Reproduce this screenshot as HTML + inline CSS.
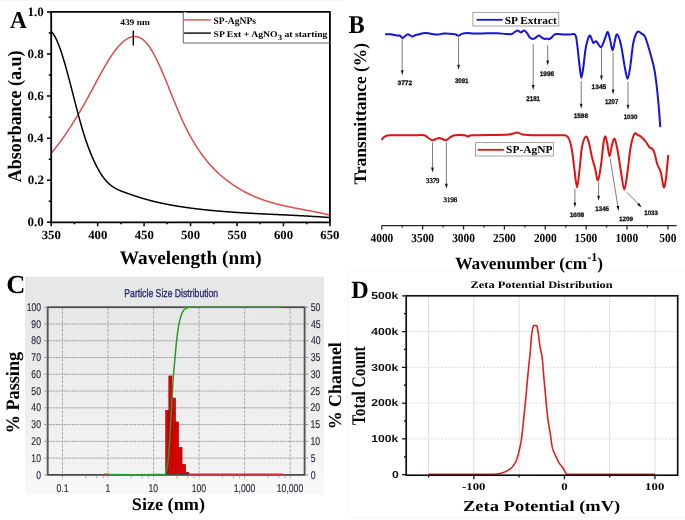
<!DOCTYPE html>
<html><head><meta charset="utf-8"><style>
html,body{margin:0;padding:0;background:#fff;}
body{width:685px;height:520px;overflow:hidden;font-family:"Liberation Serif", serif;}
svg{display:block;filter:blur(0.3px);}
</style></head><body>
<svg width="685" height="520" viewBox="0 0 685 520" text-rendering="geometricPrecision">
<rect width="685" height="520" fill="#fff"/>
<rect x="0" y="0" width="344" height="1.3" fill="#f6f6f6"/>
<path d="M347.5,271 V517.5 H685 M347.5,271 H685" stroke="#f8f8f8" stroke-width="1" fill="none"/>
<path d="M51.50,153.03 L52.00,152.42 L52.50,151.81 L53.00,151.20 L53.50,150.58 L54.00,149.96 L54.50,149.33 L55.00,148.69 L55.50,148.06 L56.00,147.41 L56.50,146.77 L57.00,146.12 L57.50,145.46 L58.00,144.80 L58.50,144.14 L59.00,143.47 L59.50,142.79 L60.00,142.11 L60.50,141.43 L61.00,140.74 L61.50,140.05 L62.00,139.36 L62.50,138.66 L63.00,137.95 L63.50,137.24 L64.00,136.53 L64.50,135.81 L65.00,135.09 L65.50,134.36 L66.00,133.63 L66.50,132.90 L67.00,132.16 L67.50,131.42 L68.00,130.67 L68.50,129.92 L69.00,129.16 L69.50,128.40 L70.00,127.63 L70.50,126.86 L71.00,126.09 L71.50,125.31 L72.00,124.53 L72.50,123.74 L73.00,122.95 L73.50,122.16 L74.00,121.36 L74.50,120.56 L75.00,119.75 L75.50,118.94 L76.00,118.12 L76.50,117.30 L77.00,116.48 L77.50,115.65 L78.00,114.82 L78.50,113.98 L79.00,113.14 L79.50,112.29 L80.00,111.45 L80.50,110.59 L81.00,109.74 L81.50,108.88 L82.00,108.01 L82.50,107.14 L83.00,106.27 L83.50,105.39 L84.00,104.51 L84.50,103.62 L85.00,102.73 L85.50,101.84 L86.00,100.94 L86.50,100.04 L87.00,99.14 L87.50,98.23 L88.00,97.31 L88.50,96.40 L89.00,95.48 L89.50,94.56 L90.00,93.63 L90.50,92.70 L91.00,91.77 L91.50,90.84 L92.00,89.91 L92.50,88.98 L93.00,88.04 L93.50,87.11 L94.00,86.17 L94.50,85.24 L95.00,84.30 L95.50,83.37 L96.00,82.43 L96.50,81.50 L97.00,80.57 L97.50,79.64 L98.00,78.72 L98.50,77.79 L99.00,76.87 L99.50,75.96 L100.00,75.04 L100.50,74.13 L101.00,73.23 L101.50,72.32 L102.00,71.43 L102.50,70.53 L103.00,69.65 L103.50,68.76 L104.00,67.89 L104.50,67.02 L105.00,66.16 L105.50,65.30 L106.00,64.45 L106.50,63.61 L107.00,62.77 L107.50,61.94 L108.00,61.13 L108.50,60.32 L109.00,59.51 L109.50,58.72 L110.00,57.94 L110.50,57.17 L111.00,56.40 L111.50,55.65 L112.00,54.91 L112.50,54.18 L113.00,53.45 L113.50,52.75 L114.00,52.05 L114.50,51.36 L115.00,50.69 L115.50,50.03 L116.00,49.39 L116.50,48.75 L117.00,48.13 L117.50,47.52 L118.00,46.93 L118.50,46.35 L119.00,45.79 L119.50,45.24 L120.00,44.70 L120.50,44.18 L121.00,43.67 L121.50,43.18 L122.00,42.71 L122.50,42.25 L123.00,41.81 L123.50,41.38 L124.00,40.97 L124.50,40.58 L125.00,40.20 L125.50,39.84 L126.00,39.50 L126.50,39.17 L127.00,38.86 L127.50,38.58 L128.00,38.30 L128.50,38.05 L129.00,37.82 L129.50,37.60 L130.00,37.41 L130.50,37.23 L131.00,37.07 L131.50,36.93 L132.00,36.82 L132.50,36.72 L133.00,36.64 L133.50,36.58 L134.00,36.55 L134.50,36.53 L135.00,36.54 L135.50,36.57 L136.00,36.62 L136.50,36.69 L137.00,36.78 L137.50,36.90 L138.00,37.04 L138.50,37.20 L139.00,37.38 L139.50,37.59 L140.00,37.82 L140.50,38.08 L141.00,38.35 L141.50,38.66 L142.00,38.98 L142.50,39.34 L143.00,39.71 L143.50,40.11 L144.00,40.54 L144.50,40.99 L145.00,41.47 L145.50,41.97 L146.00,42.50 L146.50,43.06 L147.00,43.64 L147.50,44.25 L148.00,44.89 L148.50,45.55 L149.00,46.24 L149.50,46.95 L150.00,47.69 L150.50,48.45 L151.00,49.24 L151.50,50.04 L152.00,50.87 L152.50,51.73 L153.00,52.60 L153.50,53.50 L154.00,54.41 L154.50,55.34 L155.00,56.30 L155.50,57.27 L156.00,58.25 L156.50,59.26 L157.00,60.28 L157.50,61.32 L158.00,62.37 L158.50,63.44 L159.00,64.52 L159.50,65.62 L160.00,66.73 L160.50,67.85 L161.00,68.98 L161.50,70.12 L162.00,71.28 L162.50,72.44 L163.00,73.62 L163.50,74.80 L164.00,75.99 L164.50,77.19 L165.00,78.40 L165.50,79.61 L166.00,80.83 L166.50,82.06 L167.00,83.29 L167.50,84.52 L168.00,85.76 L168.50,87.00 L169.00,88.24 L169.50,89.48 L170.00,90.73 L170.50,91.98 L171.00,93.22 L171.50,94.47 L172.00,95.72 L172.50,96.96 L173.00,98.20 L173.50,99.44 L174.00,100.68 L174.50,101.91 L175.00,103.14 L175.50,104.36 L176.00,105.58 L176.50,106.79 L177.00,107.99 L177.50,109.19 L178.00,110.38 L178.50,111.56 L179.00,112.73 L179.50,113.89 L180.00,115.04 L180.50,116.18 L181.00,117.31 L181.50,118.43 L182.00,119.53 L182.50,120.62 L183.00,121.70 L183.50,122.77 L184.00,123.83 L184.50,124.87 L185.00,125.90 L185.50,126.92 L186.00,127.93 L186.50,128.93 L187.00,129.92 L187.50,130.89 L188.00,131.86 L188.50,132.81 L189.00,133.75 L189.50,134.68 L190.00,135.60 L190.50,136.51 L191.00,137.41 L191.50,138.30 L192.00,139.17 L192.50,140.04 L193.00,140.90 L193.50,141.74 L194.00,142.58 L194.50,143.41 L195.00,144.22 L195.50,145.03 L196.00,145.83 L196.50,146.62 L197.00,147.39 L197.50,148.16 L198.00,148.92 L198.50,149.67 L199.00,150.42 L199.50,151.15 L200.00,151.87 L200.50,152.59 L201.00,153.29 L201.50,153.99 L202.00,154.68 L202.50,155.36 L203.00,156.03 L203.50,156.70 L204.00,157.35 L204.50,158.00 L205.00,158.64 L205.50,159.27 L206.00,159.90 L206.50,160.52 L207.00,161.12 L207.50,161.73 L208.00,162.32 L208.50,162.91 L209.00,163.49 L209.50,164.06 L210.00,164.63 L210.50,165.19 L211.00,165.74 L211.50,166.29 L212.00,166.82 L212.50,167.36 L213.00,167.88 L213.50,168.40 L214.00,168.92 L214.50,169.42 L215.00,169.93 L215.50,170.42 L216.00,170.91 L216.50,171.40 L217.00,171.87 L217.50,172.35 L218.00,172.82 L218.50,173.28 L219.00,173.73 L219.50,174.19 L220.00,174.63 L220.50,175.08 L221.00,175.51 L221.50,175.95 L222.00,176.37 L222.50,176.80 L223.00,177.21 L223.50,177.63 L224.00,178.04 L224.50,178.44 L225.00,178.85 L225.50,179.24 L226.00,179.64 L226.50,180.03 L227.00,180.41 L227.50,180.80 L228.00,181.17 L228.50,181.55 L229.00,181.92 L229.50,182.29 L230.00,182.65 L230.50,183.01 L231.00,183.37 L231.50,183.72 L232.00,184.07 L232.50,184.42 L233.00,184.76 L233.50,185.10 L234.00,185.43 L234.50,185.77 L235.00,186.10 L235.50,186.42 L236.00,186.74 L236.50,187.06 L237.00,187.38 L237.50,187.69 L238.00,188.00 L238.50,188.30 L239.00,188.61 L239.50,188.90 L240.00,189.20 L240.50,189.49 L241.00,189.78 L241.50,190.07 L242.00,190.35 L242.50,190.63 L243.00,190.91 L243.50,191.19 L244.00,191.46 L244.50,191.73 L245.00,191.99 L245.50,192.25 L246.00,192.51 L246.50,192.77 L247.00,193.02 L247.50,193.28 L248.00,193.52 L248.50,193.77 L249.00,194.01 L249.50,194.25 L250.00,194.49 L250.50,194.73 L251.00,194.96 L251.50,195.19 L252.00,195.42 L252.50,195.64 L253.00,195.86 L253.50,196.08 L254.00,196.30 L254.50,196.52 L255.00,196.73 L255.50,196.94 L256.00,197.15 L256.50,197.35 L257.00,197.55 L257.50,197.75 L258.00,197.95 L258.50,198.15 L259.00,198.34 L259.50,198.53 L260.00,198.72 L260.50,198.91 L261.00,199.10 L261.50,199.28 L262.00,199.46 L262.50,199.64 L263.00,199.82 L263.50,199.99 L264.00,200.16 L264.50,200.34 L265.00,200.50 L265.50,200.67 L266.00,200.84 L266.50,201.00 L267.00,201.16 L267.50,201.32 L268.00,201.48 L268.50,201.63 L269.00,201.79 L269.50,201.94 L270.00,202.09 L270.50,202.24 L271.00,202.39 L271.50,202.54 L272.00,202.68 L272.50,202.82 L273.00,202.96 L273.50,203.10 L274.00,203.24 L274.50,203.38 L275.00,203.51 L275.50,203.65 L276.00,203.78 L276.50,203.91 L277.00,204.04 L277.50,204.17 L278.00,204.30 L278.50,204.42 L279.00,204.55 L279.50,204.67 L280.00,204.79 L280.50,204.92 L281.00,205.03 L281.50,205.15 L282.00,205.27 L282.50,205.39 L283.00,205.50 L283.50,205.62 L284.00,205.73 L284.50,205.84 L285.00,205.96 L285.50,206.07 L286.00,206.18 L286.50,206.28 L287.00,206.39 L287.50,206.50 L288.00,206.61 L288.50,206.71 L289.00,206.82 L289.50,206.92 L290.00,207.02 L290.50,207.13 L291.00,207.23 L291.50,207.33 L292.00,207.43 L292.50,207.53 L293.00,207.63 L293.50,207.73 L294.00,207.83 L294.50,207.93 L295.00,208.02 L295.50,208.12 L296.00,208.22 L296.50,208.31 L297.00,208.41 L297.50,208.51 L298.00,208.60 L298.50,208.70 L299.00,208.79 L299.50,208.89 L300.00,208.98 L300.50,209.07 L301.00,209.17 L301.50,209.26 L302.00,209.35 L302.50,209.45 L303.00,209.54 L303.50,209.64 L304.00,209.73 L304.50,209.82 L305.00,209.92 L305.50,210.01 L306.00,210.10 L306.50,210.20 L307.00,210.29 L307.50,210.38 L308.00,210.48 L308.50,210.57 L309.00,210.67 L309.50,210.76 L310.00,210.86 L310.50,210.95 L311.00,211.05 L311.50,211.14 L312.00,211.24 L312.50,211.34 L313.00,211.43 L313.50,211.53 L314.00,211.63 L314.50,211.73 L315.00,211.83 L315.50,211.93 L316.00,212.03 L316.50,212.13 L317.00,212.23 L317.50,212.33 L318.00,212.43 L318.50,212.54 L319.00,212.64 L319.50,212.74 L320.00,212.85 L320.50,212.96 L321.00,213.06 L321.50,213.17 L322.00,213.28 L322.50,213.39 L323.00,213.50 L323.50,213.61 L324.00,213.72 L324.50,213.84 L325.00,213.95 L325.50,214.07 L326.00,214.18 L326.50,214.30 L327.00,214.42 L327.50,214.54 L328.00,214.66 L328.50,214.78 L329.00,214.91 L329.50,215.03" fill="none" stroke="#e04a4a" stroke-width="1.5"/>
<path d="M51.50,31.75 L52.00,32.26 L52.50,32.85 L53.00,33.50 L53.50,34.21 L54.00,34.98 L54.50,35.81 L55.00,36.70 L55.50,37.64 L56.00,38.65 L56.50,39.70 L57.00,40.80 L57.50,41.96 L58.00,43.17 L58.50,44.42 L59.00,45.72 L59.50,47.06 L60.00,48.44 L60.50,49.87 L61.00,51.33 L61.50,52.83 L62.00,54.37 L62.50,55.95 L63.00,57.55 L63.50,59.19 L64.00,60.86 L64.50,62.56 L65.00,64.28 L65.50,66.03 L66.00,67.80 L66.50,69.60 L67.00,71.42 L67.50,73.25 L68.00,75.11 L68.50,76.98 L69.00,78.86 L69.50,80.76 L70.00,82.67 L70.50,84.59 L71.00,86.52 L71.50,88.45 L72.00,90.39 L72.50,92.34 L73.00,94.29 L73.50,96.23 L74.00,98.18 L74.50,100.12 L75.00,102.06 L75.50,104.00 L76.00,105.93 L76.50,107.85 L77.00,109.75 L77.50,111.65 L78.00,113.54 L78.50,115.41 L79.00,117.26 L79.50,119.09 L80.00,120.91 L80.50,122.71 L81.00,124.48 L81.50,126.23 L82.00,127.95 L82.50,129.64 L83.00,131.31 L83.50,132.95 L84.00,134.56 L84.50,136.13 L85.00,137.68 L85.50,139.20 L86.00,140.69 L86.50,142.15 L87.00,143.59 L87.50,144.99 L88.00,146.37 L88.50,147.73 L89.00,149.06 L89.50,150.36 L90.00,151.63 L90.50,152.89 L91.00,154.11 L91.50,155.32 L92.00,156.50 L92.50,157.66 L93.00,158.79 L93.50,159.90 L94.00,160.99 L94.50,162.06 L95.00,163.11 L95.50,164.14 L96.00,165.14 L96.50,166.12 L97.00,167.08 L97.50,168.02 L98.00,168.94 L98.50,169.84 L99.00,170.71 L99.50,171.57 L100.00,172.40 L100.50,173.21 L101.00,174.00 L101.50,174.76 L102.00,175.51 L102.50,176.23 L103.00,176.93 L103.50,177.61 L104.00,178.27 L104.50,178.90 L105.00,179.51 L105.50,180.11 L106.00,180.68 L106.50,181.23 L107.00,181.76 L107.50,182.28 L108.00,182.77 L108.50,183.25 L109.00,183.71 L109.50,184.16 L110.00,184.59 L110.50,185.00 L111.00,185.40 L111.50,185.78 L112.00,186.15 L112.50,186.50 L113.00,186.85 L113.50,187.17 L114.00,187.49 L114.50,187.80 L115.00,188.09 L115.50,188.38 L116.00,188.65 L116.50,188.92 L117.00,189.17 L117.50,189.42 L118.00,189.66 L118.50,189.89 L119.00,190.11 L119.50,190.33 L120.00,190.55 L120.50,190.75 L121.00,190.96 L121.50,191.15 L122.00,191.35 L122.50,191.54 L123.00,191.73 L123.50,191.91 L124.00,192.10 L124.50,192.28 L125.00,192.46 L125.50,192.64 L126.00,192.82 L126.50,193.00 L127.00,193.18 L127.50,193.36 L128.00,193.54 L128.50,193.71 L129.00,193.89 L129.50,194.06 L130.00,194.24 L130.50,194.41 L131.00,194.59 L131.50,194.76 L132.00,194.93 L132.50,195.10 L133.00,195.27 L133.50,195.44 L134.00,195.60 L134.50,195.77 L135.00,195.94 L135.50,196.10 L136.00,196.27 L136.50,196.43 L137.00,196.59 L137.50,196.75 L138.00,196.91 L138.50,197.07 L139.00,197.23 L139.50,197.38 L140.00,197.54 L140.50,197.69 L141.00,197.85 L141.50,198.00 L142.00,198.15 L142.50,198.30 L143.00,198.45 L143.50,198.60 L144.00,198.74 L144.50,198.89 L145.00,199.03 L145.50,199.18 L146.00,199.32 L146.50,199.46 L147.00,199.60 L147.50,199.73 L148.00,199.87 L148.50,200.01 L149.00,200.14 L149.50,200.28 L150.00,200.41 L150.50,200.54 L151.00,200.67 L151.50,200.80 L152.00,200.93 L152.50,201.05 L153.00,201.18 L153.50,201.30 L154.00,201.43 L154.50,201.55 L155.00,201.67 L155.50,201.79 L156.00,201.91 L156.50,202.03 L157.00,202.14 L157.50,202.26 L158.00,202.38 L158.50,202.49 L159.00,202.60 L159.50,202.71 L160.00,202.83 L160.50,202.94 L161.00,203.04 L161.50,203.15 L162.00,203.26 L162.50,203.37 L163.00,203.47 L163.50,203.58 L164.00,203.68 L164.50,203.78 L165.00,203.88 L165.50,203.99 L166.00,204.08 L166.50,204.18 L167.00,204.28 L167.50,204.38 L168.00,204.48 L168.50,204.57 L169.00,204.67 L169.50,204.76 L170.00,204.85 L170.50,204.95 L171.00,205.04 L171.50,205.13 L172.00,205.22 L172.50,205.31 L173.00,205.40 L173.50,205.48 L174.00,205.57 L174.50,205.66 L175.00,205.74 L175.50,205.83 L176.00,205.91 L176.50,205.99 L177.00,206.08 L177.50,206.16 L178.00,206.24 L178.50,206.32 L179.00,206.40 L179.50,206.48 L180.00,206.56 L180.50,206.63 L181.00,206.71 L181.50,206.79 L182.00,206.86 L182.50,206.94 L183.00,207.01 L183.50,207.09 L184.00,207.16 L184.50,207.23 L185.00,207.30 L185.50,207.38 L186.00,207.45 L186.50,207.52 L187.00,207.59 L187.50,207.66 L188.00,207.73 L188.50,207.79 L189.00,207.86 L189.50,207.93 L190.00,207.99 L190.50,208.06 L191.00,208.13 L191.50,208.19 L192.00,208.26 L192.50,208.32 L193.00,208.38 L193.50,208.45 L194.00,208.51 L194.50,208.57 L195.00,208.64 L195.50,208.70 L196.00,208.76 L196.50,208.82 L197.00,208.88 L197.50,208.94 L198.00,209.00 L198.50,209.06 L199.00,209.11 L199.50,209.17 L200.00,209.23 L200.50,209.29 L201.00,209.34 L201.50,209.40 L202.00,209.45 L202.50,209.51 L203.00,209.56 L203.50,209.62 L204.00,209.67 L204.50,209.73 L205.00,209.78 L205.50,209.83 L206.00,209.88 L206.50,209.94 L207.00,209.99 L207.50,210.04 L208.00,210.09 L208.50,210.14 L209.00,210.19 L209.50,210.24 L210.00,210.29 L210.50,210.34 L211.00,210.39 L211.50,210.43 L212.00,210.48 L212.50,210.53 L213.00,210.58 L213.50,210.62 L214.00,210.67 L214.50,210.71 L215.00,210.76 L215.50,210.81 L216.00,210.85 L216.50,210.89 L217.00,210.94 L217.50,210.98 L218.00,211.03 L218.50,211.07 L219.00,211.11 L219.50,211.15 L220.00,211.20 L220.50,211.24 L221.00,211.28 L221.50,211.32 L222.00,211.36 L222.50,211.40 L223.00,211.44 L223.50,211.48 L224.00,211.52 L224.50,211.56 L225.00,211.60 L225.50,211.64 L226.00,211.68 L226.50,211.72 L227.00,211.75 L227.50,211.79 L228.00,211.83 L228.50,211.87 L229.00,211.90 L229.50,211.94 L230.00,211.97 L230.50,212.01 L231.00,212.05 L231.50,212.08 L232.00,212.12 L232.50,212.15 L233.00,212.19 L233.50,212.22 L234.00,212.25 L234.50,212.29 L235.00,212.32 L235.50,212.36 L236.00,212.39 L236.50,212.42 L237.00,212.45 L237.50,212.49 L238.00,212.52 L238.50,212.55 L239.00,212.58 L239.50,212.61 L240.00,212.65 L240.50,212.68 L241.00,212.71 L241.50,212.74 L242.00,212.77 L242.50,212.80 L243.00,212.83 L243.50,212.86 L244.00,212.89 L244.50,212.92 L245.00,212.95 L245.50,212.98 L246.00,213.01 L246.50,213.03 L247.00,213.06 L247.50,213.09 L248.00,213.12 L248.50,213.15 L249.00,213.18 L249.50,213.20 L250.00,213.23 L250.50,213.26 L251.00,213.29 L251.50,213.31 L252.00,213.34 L252.50,213.37 L253.00,213.39 L253.50,213.42 L254.00,213.45 L254.50,213.47 L255.00,213.50 L255.50,213.53 L256.00,213.55 L256.50,213.58 L257.00,213.60 L257.50,213.63 L258.00,213.65 L258.50,213.68 L259.00,213.70 L259.50,213.73 L260.00,213.76 L260.50,213.78 L261.00,213.80 L261.50,213.83 L262.00,213.85 L262.50,213.88 L263.00,213.90 L263.50,213.93 L264.00,213.95 L264.50,213.98 L265.00,214.00 L265.50,214.02 L266.00,214.05 L266.50,214.07 L267.00,214.10 L267.50,214.12 L268.00,214.14 L268.50,214.17 L269.00,214.19 L269.50,214.22 L270.00,214.24 L270.50,214.26 L271.00,214.29 L271.50,214.31 L272.00,214.33 L272.50,214.36 L273.00,214.38 L273.50,214.40 L274.00,214.43 L274.50,214.45 L275.00,214.47 L275.50,214.50 L276.00,214.52 L276.50,214.54 L277.00,214.57 L277.50,214.59 L278.00,214.61 L278.50,214.64 L279.00,214.66 L279.50,214.68 L280.00,214.71 L280.50,214.73 L281.00,214.75 L281.50,214.78 L282.00,214.80 L282.50,214.82 L283.00,214.85 L283.50,214.87 L284.00,214.89 L284.50,214.92 L285.00,214.94 L285.50,214.96 L286.00,214.99 L286.50,215.01 L287.00,215.04 L287.50,215.06 L288.00,215.08 L288.50,215.11 L289.00,215.13 L289.50,215.15 L290.00,215.18 L290.50,215.20 L291.00,215.23 L291.50,215.25 L292.00,215.28 L292.50,215.30 L293.00,215.32 L293.50,215.35 L294.00,215.37 L294.50,215.40 L295.00,215.42 L295.50,215.45 L296.00,215.47 L296.50,215.50 L297.00,215.52 L297.50,215.55 L298.00,215.58 L298.50,215.60 L299.00,215.63 L299.50,215.65 L300.00,215.68 L300.50,215.70 L301.00,215.73 L301.50,215.76 L302.00,215.78 L302.50,215.81 L303.00,215.84 L303.50,215.86 L304.00,215.89 L304.50,215.92 L305.00,215.95 L305.50,215.97 L306.00,216.00 L306.50,216.03 L307.00,216.06 L307.50,216.09 L308.00,216.11 L308.50,216.14 L309.00,216.17 L309.50,216.20 L310.00,216.23 L310.50,216.26 L311.00,216.29 L311.50,216.32 L312.00,216.35 L312.50,216.38 L313.00,216.41 L313.50,216.44 L314.00,216.47 L314.50,216.50 L315.00,216.53 L315.50,216.56 L316.00,216.59 L316.50,216.62 L317.00,216.66 L317.50,216.69 L318.00,216.72 L318.50,216.75 L319.00,216.79 L319.50,216.82 L320.00,216.85 L320.50,216.89 L321.00,216.92 L321.50,216.95 L322.00,216.99 L322.50,217.02 L323.00,217.06 L323.50,217.09 L324.00,217.13 L324.50,217.16 L325.00,217.20 L325.50,217.23 L326.00,217.27 L326.50,217.31 L327.00,217.34 L327.50,217.38 L328.00,217.42 L328.50,217.46 L329.00,217.49 L329.50,217.53" fill="none" stroke="#000" stroke-width="1.5"/>
<path d="M51.20,11.95 H329.90 V222.35 H51.20 Z" fill="none" stroke="#000" stroke-width="1.8"/>
<path d="M51.20,222.35 h-4.3 M51.20,201.31 h-2.5 M51.20,180.27 h-4.3 M51.20,159.23 h-2.5 M51.20,138.19 h-4.3 M51.20,117.15 h-2.5 M51.20,96.11 h-4.3 M51.20,75.07 h-2.5 M51.20,54.03 h-4.3 M51.20,32.99 h-2.5 M51.20,11.95 h-4.3 M51.20,222.35 v3.8 M74.43,222.35 v2.0 M97.65,222.35 v3.8 M120.88,222.35 v2.0 M144.10,222.35 v3.8 M167.32,222.35 v2.0 M190.55,222.35 v3.8 M213.77,222.35 v2.0 M237.00,222.35 v3.8 M260.23,222.35 v2.0 M283.45,222.35 v3.8 M306.68,222.35 v2.0 M329.90,222.35 v3.8" stroke="#000" stroke-width="1.5" fill="none"/>
<path d="M133.3,30.6 V45.5" stroke="#000" stroke-width="1.4"/>
<path d="M183.3,11.95 V43 H329.90" fill="#fff" stroke="#555" stroke-width="0.9"/>
<path d="M184.1,19.9 H210.9" stroke="#e04a4a" stroke-width="1.4"/>
<path d="M184.1,33.1 H210.9" stroke="#000" stroke-width="1.4"/>
<path d="M385.10,34.20 C386.07,34.20 389.32,34.07 390.90,34.20 C392.48,34.33 393.38,34.75 394.60,35.00 C395.82,35.25 397.35,35.63 398.20,35.70 C399.05,35.77 398.97,35.03 399.70,35.40 C400.43,35.77 401.75,37.73 402.60,37.90 C403.45,38.07 403.95,37.02 404.80,36.40 C405.65,35.78 406.48,34.20 407.70,34.20 C408.92,34.20 410.75,36.27 412.10,36.40 C413.45,36.53 414.58,35.37 415.80,35.00 C417.02,34.63 417.95,34.53 419.40,34.20 C420.85,33.87 422.80,33.12 424.50,33.00 C426.20,32.88 427.90,33.25 429.60,33.50 C431.30,33.75 433.23,34.33 434.70,34.50 C436.17,34.67 436.82,34.67 438.40,34.50 C439.98,34.33 441.77,33.60 444.20,33.50 C446.63,33.40 451.05,33.73 453.00,33.90 C454.95,34.07 454.98,34.20 455.90,34.50 C456.82,34.80 457.52,35.80 458.50,35.70 C459.48,35.60 460.28,34.35 461.80,33.90 C463.32,33.45 465.67,33.07 467.60,33.00 C469.53,32.93 470.88,33.42 473.40,33.50 C475.92,33.58 479.88,33.55 482.70,33.50 C485.52,33.45 487.75,33.25 490.30,33.20 C492.85,33.15 495.43,33.07 498.00,33.20 C500.57,33.33 503.40,33.87 505.70,34.00 C508.00,34.13 510.40,34.27 511.80,34.00 C513.20,33.73 513.13,33.00 514.10,32.40 C515.07,31.80 516.50,30.40 517.60,30.40 C518.70,30.40 519.63,32.40 520.70,32.40 C521.77,32.40 522.93,30.27 524.00,30.40 C525.07,30.53 526.20,32.10 527.10,33.20 C528.00,34.30 528.50,36.05 529.40,37.00 C530.30,37.95 531.48,38.77 532.50,38.90 C533.52,39.03 534.48,38.37 535.50,37.80 C536.52,37.23 537.57,35.55 538.60,35.50 C539.63,35.45 540.68,36.93 541.70,37.50 C542.72,38.07 543.87,38.72 544.70,38.90 C545.53,39.08 546.00,38.53 546.70,38.60 C547.40,38.67 548.08,39.48 548.90,39.30 C549.72,39.12 550.63,38.32 551.60,37.50 C552.57,36.68 553.67,34.98 554.70,34.40 C555.73,33.82 556.27,34.00 557.80,34.00 C559.33,34.00 561.87,34.33 563.90,34.40 C565.93,34.47 568.33,34.47 570.00,34.40 C571.67,34.33 572.92,33.68 573.90,34.00 C574.88,34.32 575.33,34.40 575.90,36.30 C576.47,38.20 576.68,40.43 577.30,45.40 C577.92,50.37 578.92,60.72 579.60,66.10 C580.28,71.48 580.75,77.70 581.40,77.70 C582.05,77.70 582.77,71.10 583.50,66.10 C584.23,61.10 584.80,52.77 585.80,47.70 C586.80,42.63 588.42,36.85 589.50,35.70 C590.58,34.55 591.65,39.58 592.30,40.80 C592.95,42.02 592.72,42.90 593.40,43.00 C594.08,43.10 595.13,40.70 596.40,41.40 C597.67,42.10 599.57,47.68 601.00,47.20 C602.43,46.72 603.88,41.03 605.00,38.50 C606.12,35.97 606.82,31.62 607.70,32.00 C608.58,32.38 609.48,37.73 610.30,40.80 C611.12,43.87 611.83,50.40 612.60,50.40 C613.37,50.40 614.13,43.48 614.90,40.80 C615.67,38.12 616.17,33.53 617.20,34.30 C618.23,35.07 619.87,40.10 621.10,45.40 C622.33,50.70 623.52,60.53 624.60,66.10 C625.68,71.67 626.65,78.80 627.60,78.80 C628.55,78.80 629.35,72.07 630.30,66.10 C631.25,60.13 632.13,48.68 633.30,43.00 C634.47,37.32 635.87,33.53 637.30,32.00 C638.73,30.47 640.57,32.92 641.90,33.80 C643.23,34.68 643.95,34.22 645.30,37.30 C646.65,40.38 648.45,46.73 650.00,52.30 C651.55,57.87 653.27,63.02 654.60,70.70 C655.93,78.38 657.05,88.98 658.00,98.40 C658.95,107.82 659.92,122.40 660.30,127.20" fill="none" stroke="#1414dc" stroke-width="2.0" stroke-linejoin="round"/>
<path d="M381.70,140.00 C382.07,139.53 382.62,137.98 383.90,137.20 C385.18,136.42 384.78,135.62 389.40,135.30 C394.02,134.98 405.82,135.30 411.60,135.30 C417.38,135.30 421.32,134.85 424.10,135.30 C426.88,135.75 426.92,137.18 428.30,138.00 C429.68,138.82 431.12,140.03 432.40,140.20 C433.68,140.37 434.85,139.37 436.00,139.00 C437.15,138.63 438.13,137.95 439.30,138.00 C440.47,138.05 441.83,138.93 443.00,139.30 C444.17,139.67 445.07,140.55 446.30,140.20 C447.53,139.85 449.02,138.02 450.40,137.20 C451.78,136.38 452.28,135.62 454.60,135.30 C456.92,134.98 461.98,135.08 464.30,135.30 C466.62,135.52 467.12,136.60 468.50,136.60 C469.88,136.60 465.90,135.67 472.60,135.30 C479.30,134.93 501.30,134.87 508.70,134.40 C516.10,133.93 514.68,132.50 517.00,132.50 C519.32,132.50 519.37,133.93 522.60,134.40 C525.83,134.87 530.17,135.15 536.40,135.30 C542.63,135.45 555.03,135.25 560.00,135.30 C564.97,135.35 564.62,134.82 566.20,135.60 C567.78,136.38 568.53,137.53 569.50,140.00 C570.47,142.47 571.17,145.40 572.00,150.40 C572.83,155.40 573.67,163.85 574.50,170.00 C575.33,176.15 576.17,187.30 577.00,187.30 C577.83,187.30 578.67,176.72 579.50,170.00 C580.33,163.28 580.95,152.58 582.00,147.00 C583.05,141.42 584.63,137.17 585.80,136.50 C586.97,135.83 587.97,139.53 589.00,143.00 C590.03,146.47 591.00,153.13 592.00,157.30 C593.00,161.47 594.00,164.15 595.00,168.00 C596.00,171.85 597.00,180.90 598.00,180.40 C599.00,179.90 600.08,171.23 601.00,165.00 C601.92,158.77 602.77,147.75 603.50,143.00 C604.23,138.25 604.73,136.17 605.40,136.50 C606.07,136.83 606.82,141.72 607.50,145.00 C608.18,148.28 608.75,156.20 609.50,156.20 C610.25,156.20 611.15,147.90 612.00,145.00 C612.85,142.10 613.68,137.97 614.60,138.80 C615.52,139.63 616.43,144.47 617.50,150.00 C618.57,155.53 619.87,165.40 621.00,172.00 C622.13,178.60 623.22,189.60 624.30,189.60 C625.38,189.60 626.47,178.93 627.50,172.00 C628.53,165.07 629.38,154.30 630.50,148.00 C631.62,141.70 632.95,136.37 634.20,134.20 C635.45,132.03 636.65,134.42 638.00,135.00 C639.35,135.58 640.97,136.53 642.30,137.70 C643.63,138.87 644.85,140.45 646.00,142.00 C647.15,143.55 648.08,145.80 649.20,147.00 C650.32,148.20 651.73,147.87 652.70,149.20 C653.67,150.53 654.23,152.50 655.00,155.00 C655.77,157.50 656.33,161.32 657.30,164.20 C658.27,167.08 659.72,168.45 660.80,172.30 C661.88,176.15 662.93,186.35 663.80,187.30 C664.67,188.25 665.27,183.38 666.00,178.00 C666.73,172.62 667.83,158.83 668.20,155.00" fill="none" stroke="#dc1414" stroke-width="2.0" stroke-linejoin="round"/>
<path d="M381.8,225.55 H676.6 M381.80,225.55 v4.0 M402.24,225.55 v2.0 M422.67,225.55 v4.0 M443.11,225.55 v2.0 M463.54,225.55 v4.0 M483.98,225.55 v2.0 M504.41,225.55 v4.0 M524.85,225.55 v2.0 M545.29,225.55 v4.0 M565.72,225.55 v2.0 M586.16,225.55 v4.0 M606.59,225.55 v2.0 M627.03,225.55 v4.0 M647.46,225.55 v2.0 M667.90,225.55 v4.0" stroke="#222" stroke-width="1.3" fill="none"/>
<rect x="472.9" y="12.4" width="85.9" height="13.6" fill="#fff" stroke="#999" stroke-width="0.9"/>
<path d="M476.6,19.8 H502.7" stroke="#1414dc" stroke-width="1.8"/>
<rect x="475.5" y="142.6" width="77.9" height="13.4" fill="#fff" stroke="#999" stroke-width="0.9"/>
<path d="M477.9,149.8 H503.9" stroke="#dc1414" stroke-width="1.8"/>
<path d="M402.20,38.50 L402.20,70.30" stroke="#444" stroke-width="0.7"/><path d="M402.20,75.30 L400.80,70.30 L403.60,70.30 Z" fill="#111"/>
<path d="M458.60,37.50 L458.60,64.70" stroke="#444" stroke-width="0.7"/><path d="M458.60,69.70 L457.20,64.70 L460.00,64.70 Z" fill="#111"/>
<path d="M533.20,44.20 L533.20,84.90" stroke="#444" stroke-width="0.7"/><path d="M533.20,89.90 L531.80,84.90 L534.60,84.90 Z" fill="#111"/>
<path d="M547.70,45.30 L547.70,60.60" stroke="#444" stroke-width="0.7"/><path d="M547.70,65.60 L546.30,60.60 L549.10,60.60 Z" fill="#111"/>
<path d="M581.20,81.10 L581.20,103.70" stroke="#444" stroke-width="0.7"/><path d="M581.20,108.70 L579.80,103.70 L582.60,103.70 Z" fill="#111"/>
<path d="M601.50,48.50 L601.50,75.60" stroke="#444" stroke-width="0.7"/><path d="M601.50,80.60 L600.10,75.60 L602.90,75.60 Z" fill="#111"/>
<path d="M613.10,52.50 L613.10,89.40" stroke="#444" stroke-width="0.7"/><path d="M613.10,94.40 L611.70,89.40 L614.50,89.40 Z" fill="#111"/>
<path d="M628.00,82.20 L628.00,104.70" stroke="#444" stroke-width="0.7"/><path d="M628.00,109.70 L626.60,104.70 L629.40,104.70 Z" fill="#111"/>
<path d="M432.50,142.50 L432.50,167.50" stroke="#444" stroke-width="0.7"/><path d="M432.50,172.50 L431.10,167.50 L433.90,167.50 Z" fill="#111"/>
<path d="M446.40,142.50 L446.40,183.80" stroke="#444" stroke-width="0.7"/><path d="M446.40,188.80 L445.00,183.80 L447.80,183.80 Z" fill="#111"/>
<path d="M574.90,188.80 L574.90,202.40" stroke="#444" stroke-width="0.7"/><path d="M574.90,207.40 L573.50,202.40 L576.30,202.40 Z" fill="#111"/>
<path d="M598.60,182.20 L598.60,195.70" stroke="#444" stroke-width="0.7"/><path d="M598.60,200.70 L597.20,195.70 L600.00,195.70 Z" fill="#111"/>
<path d="M610.20,158.50 L617.81,206.06" stroke="#444" stroke-width="0.7"/><path d="M618.60,211.00 L616.43,206.28 L619.19,205.84 Z" fill="#111"/>
<path d="M627.00,192.40 L638.11,203.82" stroke="#444" stroke-width="0.7"/><path d="M641.60,207.40 L637.11,204.79 L639.12,202.84 Z" fill="#111"/>
<defs><linearGradient id="gC" x1="0" y1="0" x2="0" y2="1"><stop offset="0" stop-color="#e6e6e6"/><stop offset="0.5" stop-color="#ececec"/><stop offset="1" stop-color="#f9f9f9"/></linearGradient><linearGradient id="gC2" x1="0" y1="0" x2="0" y2="1"><stop offset="0" stop-color="#e8e8e8"/><stop offset="1" stop-color="#f3f3f3"/></linearGradient></defs>
<rect x="25" y="276.6" width="299" height="217.8" fill="url(#gC)"/>
<rect x="47.7" y="307.2" width="256.9" height="167.7" fill="url(#gC2)"/>
<path d="M47.7,458.13 H304.6 M47.7,441.36 H304.6 M47.7,424.59 H304.6 M47.7,407.82 H304.6 M47.7,391.05 H304.6 M47.7,374.28 H304.6 M47.7,357.51 H304.6 M47.7,340.74 H304.6 M47.7,323.97 H304.6" stroke="#a2a2a2" stroke-width="1.0" stroke-dasharray="2,0.7" fill="none"/>
<path d="M62.50,307.2 V479.9 M108.04,307.2 V479.9 M153.58,307.2 V479.9 M199.12,307.2 V479.9 M244.66,307.2 V479.9 M290.20,307.2 V479.9" stroke="#a4a4a4" stroke-width="0.9" stroke-dasharray="3,1.3" fill="none"/>
<rect x="165.6" y="410.3" width="3.2" height="64.6" fill="#e00000" stroke="#900000" stroke-width="0.5"/>
<rect x="168.8" y="375.9" width="3.2" height="99.0" fill="#e00000" stroke="#900000" stroke-width="0.5"/>
<rect x="172.0" y="398.0" width="3.6" height="76.9" fill="#e00000" stroke="#900000" stroke-width="0.5"/>
<rect x="175.6" y="421.9" width="3.1" height="53.0" fill="#e00000" stroke="#900000" stroke-width="0.5"/>
<rect x="178.7" y="447.3" width="3.4" height="27.6" fill="#e00000" stroke="#900000" stroke-width="0.5"/>
<rect x="182.1" y="464.3" width="3.6" height="10.6" fill="#e00000" stroke="#900000" stroke-width="0.5"/>
<rect x="185.7" y="472.3" width="3.2" height="2.6" fill="#e00000" stroke="#900000" stroke-width="0.5"/>
<rect x="47.7" y="307.2" width="256.9" height="167.7" fill="none" stroke="#4d4d4d" stroke-width="1.8"/>
<path d="M85.73,475.70 v2.6 M96.66,475.70 v2.6 M103.03,475.70 v2.6 M131.27,475.70 v2.6 M142.19,475.70 v2.6 M148.57,475.70 v2.6 M176.81,475.70 v2.6 M187.73,475.70 v2.6 M194.11,475.70 v2.6 M222.35,475.70 v2.6 M233.28,475.70 v2.6 M239.65,475.70 v2.6 M267.89,475.70 v2.6 M278.81,475.70 v2.6 M285.19,475.70 v2.6" stroke="#9a9a9a" stroke-width="0.8" fill="none"/>
<path d="M103.6,474.4 H107.6 M188.9,474.4 H283" stroke="#c83232" stroke-width="1.7"/>
<path d="M106.70,474.60 C115.58,474.60 150.25,474.67 160.00,474.60 C169.75,474.53 163.87,476.30 165.20,474.20 C166.53,472.10 167.07,470.80 168.00,462.00 C168.93,453.20 169.95,435.07 170.80,421.40 C171.65,407.73 172.38,390.75 173.10,380.00 C173.82,369.25 174.52,363.43 175.10,356.90 C175.68,350.37 175.98,346.18 176.60,340.80 C177.22,335.42 178.03,328.83 178.80,324.60 C179.57,320.37 180.37,317.83 181.20,315.40 C182.03,312.97 182.72,311.30 183.80,310.00 C184.88,308.70 186.33,308.07 187.70,307.60 C189.07,307.13 176.40,307.27 192.00,307.20 C207.60,307.13 266.42,307.20 281.30,307.20" fill="none" stroke="#2e962e" stroke-width="1.5"/>
<path d="M47.7,474.90 h-3.4 M304.6,474.90 h3.7 M47.7,458.13 h-3.4 M304.6,458.13 h3.7 M47.7,441.36 h-3.4 M304.6,441.36 h3.7 M47.7,424.59 h-3.4 M304.6,424.59 h3.7 M47.7,407.82 h-3.4 M304.6,407.82 h3.7 M47.7,391.05 h-3.4 M304.6,391.05 h3.7 M47.7,374.28 h-3.4 M304.6,374.28 h3.7 M47.7,357.51 h-3.4 M304.6,357.51 h3.7 M47.7,340.74 h-3.4 M304.6,340.74 h3.7 M47.7,323.97 h-3.4 M304.6,323.97 h3.7 M47.7,307.20 h-3.4 M304.6,307.20 h3.7" stroke="#888" stroke-width="0.9" fill="none"/>
<path d="M47.7,471.55 h-1.8 M304.6,471.55 h1.8 M47.7,468.19 h-1.8 M304.6,468.19 h1.8 M47.7,464.84 h-1.8 M304.6,464.84 h1.8 M47.7,461.48 h-1.8 M304.6,461.48 h1.8 M47.7,454.78 h-1.8 M304.6,454.78 h1.8 M47.7,451.42 h-1.8 M304.6,451.42 h1.8 M47.7,448.07 h-1.8 M304.6,448.07 h1.8 M47.7,444.71 h-1.8 M304.6,444.71 h1.8 M47.7,438.01 h-1.8 M304.6,438.01 h1.8 M47.7,434.65 h-1.8 M304.6,434.65 h1.8 M47.7,431.30 h-1.8 M304.6,431.30 h1.8 M47.7,427.94 h-1.8 M304.6,427.94 h1.8 M47.7,421.24 h-1.8 M304.6,421.24 h1.8 M47.7,417.88 h-1.8 M304.6,417.88 h1.8 M47.7,414.53 h-1.8 M304.6,414.53 h1.8 M47.7,411.17 h-1.8 M304.6,411.17 h1.8 M47.7,404.47 h-1.8 M304.6,404.47 h1.8 M47.7,401.11 h-1.8 M304.6,401.11 h1.8 M47.7,397.76 h-1.8 M304.6,397.76 h1.8 M47.7,394.40 h-1.8 M304.6,394.40 h1.8 M47.7,387.70 h-1.8 M304.6,387.70 h1.8 M47.7,384.34 h-1.8 M304.6,384.34 h1.8 M47.7,380.99 h-1.8 M304.6,380.99 h1.8 M47.7,377.63 h-1.8 M304.6,377.63 h1.8 M47.7,370.93 h-1.8 M304.6,370.93 h1.8 M47.7,367.57 h-1.8 M304.6,367.57 h1.8 M47.7,364.22 h-1.8 M304.6,364.22 h1.8 M47.7,360.86 h-1.8 M304.6,360.86 h1.8 M47.7,354.16 h-1.8 M304.6,354.16 h1.8 M47.7,350.80 h-1.8 M304.6,350.80 h1.8 M47.7,347.45 h-1.8 M304.6,347.45 h1.8 M47.7,344.09 h-1.8 M304.6,344.09 h1.8 M47.7,337.39 h-1.8 M304.6,337.39 h1.8 M47.7,334.03 h-1.8 M304.6,334.03 h1.8 M47.7,330.68 h-1.8 M304.6,330.68 h1.8 M47.7,327.32 h-1.8 M304.6,327.32 h1.8 M47.7,320.62 h-1.8 M304.6,320.62 h1.8 M47.7,317.26 h-1.8 M304.6,317.26 h1.8 M47.7,313.91 h-1.8 M304.6,313.91 h1.8 M47.7,310.55 h-1.8 M304.6,310.55 h1.8" stroke="#a0a0a0" stroke-width="0.8" fill="none"/>
<path d="M428.57,295.8 V475.2 M473.85,295.8 V475.2 M519.12,295.8 V475.2 M564.40,295.8 V475.2 M609.67,295.8 V475.2 M654.95,295.8 V475.2" stroke="#dadada" stroke-width="0.9" fill="none"/>
<path d="M406.2,438.92 H677.7 M406.2,403.14 H677.7 M406.2,367.36 H677.7 M406.2,331.58 H677.7" stroke="#d2d2d2" stroke-width="0.8" stroke-dasharray="2,1.5" fill="none"/>
<path d="M428.50,474.40 L428.75,474.40 L429.00,474.40 L429.25,474.40 L429.50,474.40 L429.75,474.40 L430.00,474.40 L430.25,474.40 L430.50,474.40 L430.75,474.40 L431.00,474.40 L431.25,474.40 L431.50,474.40 L431.75,474.40 L432.00,474.40 L432.25,474.40 L432.50,474.40 L432.75,474.40 L433.00,474.40 L433.25,474.40 L433.50,474.40 L433.75,474.40 L434.00,474.40 L434.25,474.40 L434.50,474.40 L434.75,474.40 L435.00,474.40 L435.25,474.40 L435.50,474.40 L435.75,474.40 L436.00,474.40 L436.25,474.40 L436.50,474.40 L436.75,474.40 L437.00,474.40 L437.25,474.40 L437.50,474.40 L437.75,474.40 L438.00,474.40 L438.25,474.40 L438.50,474.40 L438.75,474.40 L439.00,474.40 L439.25,474.40 L439.50,474.40 L439.75,474.40 L440.00,474.40 L440.25,474.40 L440.50,474.40 L440.75,474.40 L441.00,474.40 L441.25,474.40 L441.50,474.40 L441.75,474.40 L442.00,474.40 L442.25,474.40 L442.50,474.40 L442.75,474.40 L443.00,474.40 L443.25,474.40 L443.50,474.40 L443.75,474.40 L444.00,474.40 L444.25,474.40 L444.50,474.40 L444.75,474.40 L445.00,474.40 L445.25,474.40 L445.50,474.40 L445.75,474.40 L446.00,474.40 L446.25,474.40 L446.50,474.40 L446.75,474.40 L447.00,474.40 L447.25,474.40 L447.50,474.40 L447.75,474.40 L448.00,474.40 L448.25,474.40 L448.50,474.40 L448.75,474.40 L449.00,474.40 L449.25,474.40 L449.50,474.40 L449.75,474.40 L450.00,474.40 L450.25,474.40 L450.50,474.40 L450.75,474.40 L451.00,474.40 L451.25,474.40 L451.50,474.40 L451.75,474.40 L452.00,474.40 L452.25,474.40 L452.50,474.40 L452.75,474.40 L453.00,474.40 L453.25,474.40 L453.50,474.40 L453.75,474.40 L454.00,474.40 L454.25,474.40 L454.50,474.40 L454.75,474.40 L455.00,474.40 L455.25,474.40 L455.50,474.40 L455.75,474.40 L456.00,474.40 L456.25,474.40 L456.50,474.40 L456.75,474.40 L457.00,474.40 L457.25,474.40 L457.50,474.40 L457.75,474.40 L458.00,474.40 L458.25,474.40 L458.50,474.40 L458.75,474.40 L459.00,474.40 L459.25,474.40 L459.50,474.40 L459.75,474.40 L460.00,474.40 L460.25,474.40 L460.50,474.40 L460.75,474.40 L461.00,474.40 L461.25,474.40 L461.50,474.40 L461.75,474.40 L462.00,474.40 L462.25,474.40 L462.50,474.40 L462.75,474.40 L463.00,474.40 L463.25,474.40 L463.50,474.40 L463.75,474.40 L464.00,474.40 L464.25,474.40 L464.50,474.40 L464.75,474.40 L465.00,474.40 L465.25,474.40 L465.50,474.40 L465.75,474.40 L466.00,474.40 L466.25,474.40 L466.50,474.40 L466.75,474.40 L467.00,474.40 L467.25,474.40 L467.50,474.40 L467.75,474.40 L468.00,474.40 L468.25,474.40 L468.50,474.40 L468.75,474.40 L469.00,474.40 L469.25,474.40 L469.50,474.40 L469.75,474.40 L470.00,474.40 L470.25,474.40 L470.50,474.40 L470.75,474.40 L471.00,474.40 L471.25,474.40 L471.50,474.40 L471.75,474.40 L472.00,474.40 L472.25,474.40 L472.50,474.40 L472.75,474.40 L473.00,474.40 L473.25,474.40 L473.50,474.40 L473.75,474.40 L474.00,474.40 L474.25,474.40 L474.50,474.40 L474.75,474.40 L475.00,474.40 L475.25,474.40 L475.50,474.40 L475.75,474.40 L476.00,474.40 L476.25,474.40 L476.50,474.40 L476.75,474.40 L477.00,474.40 L477.25,474.40 L477.50,474.40 L477.75,474.40 L478.00,474.40 L478.25,474.40 L478.50,474.40 L478.75,474.40 L479.00,474.40 L479.25,474.40 L479.50,474.40 L479.75,474.40 L480.00,474.40 L480.25,474.40 L480.50,474.40 L480.75,474.40 L481.00,474.40 L481.25,474.40 L481.50,474.40 L481.75,474.40 L482.00,474.40 L482.25,474.40 L482.50,474.40 L482.75,474.40 L483.00,474.40 L483.25,474.40 L483.50,474.40 L483.75,474.40 L484.00,474.40 L484.25,474.40 L484.50,474.40 L484.75,474.40 L485.00,474.40 L485.25,474.40 L485.50,474.40 L485.75,474.40 L486.00,474.40 L486.25,474.40 L486.50,474.40 L486.75,474.40 L487.00,474.40 L487.25,474.40 L487.50,474.40 L487.75,474.40 L488.00,474.40 L488.25,474.40 L488.50,474.40 L488.75,474.40 L489.00,474.40 L489.25,474.40 L489.50,474.40 L489.75,474.40 L490.00,474.40 L490.25,474.40 L490.50,474.40 L490.75,474.39 L491.00,474.39 L491.25,474.38 L491.50,474.38 L491.75,474.37 L492.00,474.36 L492.25,474.35 L492.50,474.34 L492.75,474.33 L493.00,474.32 L493.25,474.30 L493.50,474.29 L493.75,474.28 L494.00,474.26 L494.25,474.25 L494.50,474.23 L494.75,474.22 L495.00,474.20 L495.25,474.18 L495.50,474.16 L495.75,474.14 L496.00,474.12 L496.25,474.09 L496.50,474.06 L496.75,474.03 L497.00,474.00 L497.25,473.96 L497.50,473.93 L497.75,473.89 L498.00,473.85 L498.25,473.81 L498.50,473.76 L498.75,473.72 L499.00,473.67 L499.25,473.63 L499.50,473.58 L499.75,473.53 L500.00,473.48 L500.25,473.43 L500.50,473.37 L500.75,473.31 L501.00,473.24 L501.25,473.18 L501.50,473.10 L501.75,473.03 L502.00,472.95 L502.25,472.87 L502.50,472.79 L502.75,472.70 L503.00,472.61 L503.25,472.52 L503.50,472.42 L503.75,472.33 L504.00,472.23 L504.25,472.13 L504.50,472.03 L504.75,471.92 L505.00,471.81 L505.25,471.71 L505.50,471.60 L505.75,471.48 L506.00,471.36 L506.25,471.24 L506.50,471.12 L506.75,470.99 L507.00,470.86 L507.25,470.73 L507.50,470.59 L507.75,470.45 L508.00,470.30 L508.25,470.15 L508.50,470.00 L508.75,469.84 L509.00,469.67 L509.25,469.50 L509.50,469.33 L509.75,469.14 L510.00,468.96 L510.25,468.77 L510.50,468.57 L510.75,468.36 L511.00,468.15 L511.25,467.93 L511.50,467.71 L511.75,467.47 L512.00,467.22 L512.25,466.95 L512.50,466.67 L512.75,466.37 L513.00,466.06 L513.25,465.73 L513.50,465.38 L513.75,465.02 L514.00,464.64 L514.25,464.25 L514.50,463.84 L514.75,463.42 L515.00,462.97 L515.25,462.51 L515.50,462.04 L515.75,461.54 L516.00,461.03 L516.25,460.51 L516.50,459.94 L516.75,459.31 L517.00,458.61 L517.25,457.85 L517.50,457.04 L517.75,456.18 L518.00,455.29 L518.25,454.35 L518.50,453.39 L518.75,452.41 L519.00,451.41 L519.25,450.40 L519.50,449.36 L519.75,448.29 L520.00,447.17 L520.25,445.99 L520.50,444.75 L520.75,443.42 L521.00,442.00 L521.25,440.49 L521.50,438.78 L521.75,436.88 L522.00,434.83 L522.25,432.66 L522.50,430.42 L522.75,428.15 L523.00,425.83 L523.25,423.35 L523.50,420.77 L523.75,418.13 L524.00,415.50 L524.25,412.91 L524.50,410.42 L524.75,408.02 L525.00,405.67 L525.25,403.33 L525.50,400.98 L525.75,398.56 L526.00,396.04 L526.25,393.37 L526.50,390.51 L526.75,387.55 L527.00,384.60 L527.25,381.75 L527.50,379.05 L527.75,376.42 L528.00,373.84 L528.25,371.30 L528.50,368.79 L528.75,366.30 L529.00,363.86 L529.25,361.53 L529.50,359.24 L529.75,356.94 L530.00,354.55 L530.25,352.02 L530.50,349.22 L530.75,345.78 L531.00,342.06 L531.25,338.56 L531.50,335.79 L531.75,333.99 L532.00,332.35 L532.25,330.81 L532.50,329.40 L532.75,328.15 L533.00,327.10 L533.25,326.28 L533.50,325.74 L533.75,325.51 L534.00,325.50 L534.25,325.50 L534.50,325.50 L534.75,325.50 L535.00,325.50 L535.25,325.50 L535.50,325.50 L535.75,325.50 L536.00,325.50 L536.25,325.50 L536.50,325.50 L536.75,325.75 L537.00,326.42 L537.25,327.42 L537.50,328.65 L537.75,330.00 L538.00,331.37 L538.25,332.76 L538.50,334.47 L538.75,336.44 L539.00,338.57 L539.25,340.73 L539.50,342.84 L539.75,344.77 L540.00,346.43 L540.25,347.88 L540.50,349.17 L540.75,350.36 L541.00,351.51 L541.25,352.67 L541.50,353.89 L541.75,355.22 L542.00,356.72 L542.25,358.44 L542.50,360.50 L542.75,363.35 L543.00,366.76 L543.25,370.28 L543.50,373.50 L543.75,376.37 L544.00,379.14 L544.25,381.83 L544.50,384.47 L544.75,387.08 L545.00,389.69 L545.25,392.32 L545.50,395.00 L545.75,397.77 L546.00,400.63 L546.25,403.49 L546.50,406.29 L546.75,408.95 L547.00,411.40 L547.25,413.66 L547.50,415.80 L547.75,417.83 L548.00,419.74 L548.25,421.55 L548.50,423.25 L548.75,424.86 L549.00,426.39 L549.25,427.88 L549.50,429.33 L549.75,430.77 L550.00,432.23 L550.25,433.72 L550.50,435.26 L550.75,436.91 L551.00,438.74 L551.25,440.66 L551.50,442.58 L551.75,444.37 L552.00,445.95 L552.25,447.20 L552.50,448.14 L552.75,449.00 L553.00,449.78 L553.25,450.49 L553.50,451.14 L553.75,451.75 L554.00,452.32 L554.25,452.87 L554.50,453.39 L554.75,453.91 L555.00,454.42 L555.25,454.95 L555.50,455.50 L555.75,456.06 L556.00,456.62 L556.25,457.18 L556.50,457.73 L556.75,458.28 L557.00,458.82 L557.25,459.35 L557.50,459.87 L557.75,460.38 L558.00,460.88 L558.25,461.36 L558.50,461.84 L558.75,462.29 L559.00,462.73 L559.25,463.15 L559.50,463.55 L559.75,463.92 L560.00,464.27 L560.25,464.60 L560.50,464.91 L560.75,465.21 L561.00,465.49 L561.25,465.77 L561.50,466.05 L561.75,466.34 L562.00,466.63 L562.25,466.93 L562.50,467.25 L562.75,467.59 L563.00,467.95 L563.25,468.36 L563.50,468.81 L563.75,469.29 L564.00,469.78 L564.25,470.28 L564.50,470.77 L564.75,471.25 L565.00,471.70 L565.25,472.10 L565.50,472.46 L565.75,472.75 L566.00,473.03 L566.25,473.31 L566.50,473.59 L566.75,473.84 L567.00,474.05 L567.25,474.23 L567.50,474.35 L567.75,474.40 L568.00,474.40 L568.25,474.40 L568.50,474.40 L568.75,474.40 L569.00,474.40 L569.25,474.40 L569.50,474.40 L569.75,474.40 L570.00,474.40 L570.25,474.40 L570.50,474.40 L570.75,474.40 L571.00,474.40 L571.25,474.40 L571.50,474.40 L571.75,474.40 L572.00,474.40 L572.25,474.40 L572.50,474.40 L572.75,474.40 L573.00,474.40 L573.25,474.40 L573.50,474.40 L573.75,474.40 L574.00,474.40 L574.25,474.40 L574.50,474.40 L574.75,474.40 L575.00,474.40 L575.25,474.40 L575.50,474.40 L575.75,474.40 L576.00,474.40 L576.25,474.40 L576.50,474.40 L576.75,474.40 L577.00,474.40 L577.25,474.40 L577.50,474.40 L577.75,474.40 L578.00,474.40 L578.25,474.40 L578.50,474.40 L578.75,474.40 L579.00,474.40 L579.25,474.40 L579.50,474.40 L579.75,474.40 L580.00,474.40 L580.25,474.40 L580.50,474.40 L580.75,474.40 L581.00,474.40 L581.25,474.40 L581.50,474.40 L581.75,474.40 L582.00,474.40 L582.25,474.40 L582.50,474.40 L582.75,474.40 L583.00,474.40 L583.25,474.40 L583.50,474.40 L583.75,474.40 L584.00,474.40 L584.25,474.40 L584.50,474.40 L584.75,474.40 L585.00,474.40 L585.25,474.40 L585.50,474.40 L585.75,474.40 L586.00,474.40 L586.25,474.40 L586.50,474.40 L586.75,474.40 L587.00,474.40 L587.25,474.40 L587.50,474.40 L587.75,474.40 L588.00,474.40 L588.25,474.40 L588.50,474.40 L588.75,474.40 L589.00,474.40 L589.25,474.40 L589.50,474.40 L589.75,474.40 L590.00,474.40 L590.25,474.40 L590.50,474.40 L590.75,474.40 L591.00,474.40 L591.25,474.40 L591.50,474.40 L591.75,474.40 L592.00,474.40 L592.25,474.40 L592.50,474.40 L592.75,474.40 L593.00,474.40 L593.25,474.40 L593.50,474.40 L593.75,474.40 L594.00,474.40 L594.25,474.40 L594.50,474.40 L594.75,474.40 L595.00,474.40 L595.25,474.40 L595.50,474.40 L595.75,474.40 L596.00,474.40 L596.25,474.40 L596.50,474.40 L596.75,474.40 L597.00,474.40 L597.25,474.40 L597.50,474.40 L597.75,474.40 L598.00,474.40 L598.25,474.40 L598.50,474.40 L598.75,474.40 L599.00,474.40 L599.25,474.40 L599.50,474.40 L599.75,474.40 L600.00,474.40 L600.25,474.40 L600.50,474.40 L600.75,474.40 L601.00,474.40 L601.25,474.40 L601.50,474.40 L601.75,474.40 L602.00,474.40 L602.25,474.40 L602.50,474.40 L602.75,474.40 L603.00,474.40 L603.25,474.40 L603.50,474.40 L603.75,474.40 L604.00,474.40 L604.25,474.40 L604.50,474.40 L604.75,474.40 L605.00,474.40 L605.25,474.40 L605.50,474.40 L605.75,474.40 L606.00,474.40 L606.25,474.40 L606.50,474.40 L606.75,474.40 L607.00,474.40 L607.25,474.40 L607.50,474.40 L607.75,474.40 L608.00,474.40 L608.25,474.40 L608.50,474.40 L608.75,474.40 L609.00,474.40 L609.25,474.40 L609.50,474.40 L609.75,474.40 L610.00,474.40 L610.25,474.40 L610.50,474.40 L610.75,474.40 L611.00,474.40 L611.25,474.40 L611.50,474.40 L611.75,474.40 L612.00,474.40 L612.25,474.40 L612.50,474.40 L612.75,474.40 L613.00,474.40 L613.25,474.40 L613.50,474.40 L613.75,474.40 L614.00,474.40 L614.25,474.40 L614.50,474.40 L614.75,474.40 L615.00,474.40 L615.25,474.40 L615.50,474.40 L615.75,474.40 L616.00,474.40 L616.25,474.40 L616.50,474.40 L616.75,474.40 L617.00,474.40 L617.25,474.40 L617.50,474.40 L617.75,474.40 L618.00,474.40 L618.25,474.40 L618.50,474.40 L618.75,474.40 L619.00,474.40 L619.25,474.40 L619.50,474.40 L619.75,474.40 L620.00,474.40 L620.25,474.40 L620.50,474.40 L620.75,474.40 L621.00,474.40 L621.25,474.40 L621.50,474.40 L621.75,474.40 L622.00,474.40 L622.25,474.40 L622.50,474.40 L622.75,474.40 L623.00,474.40 L623.25,474.40 L623.50,474.40 L623.75,474.40 L624.00,474.40 L624.25,474.40 L624.50,474.40 L624.75,474.40 L625.00,474.40 L625.25,474.40 L625.50,474.40 L625.75,474.40 L626.00,474.40 L626.25,474.40 L626.50,474.40 L626.75,474.40 L627.00,474.40 L627.25,474.40 L627.50,474.40 L627.75,474.40 L628.00,474.40 L628.25,474.40 L628.50,474.40 L628.75,474.40 L629.00,474.40 L629.25,474.40 L629.50,474.40 L629.75,474.40 L630.00,474.40 L630.25,474.40 L630.50,474.40 L630.75,474.40 L631.00,474.40 L631.25,474.40 L631.50,474.40 L631.75,474.40 L632.00,474.40 L632.25,474.40 L632.50,474.40 L632.75,474.40 L633.00,474.40 L633.25,474.40 L633.50,474.40 L633.75,474.40 L634.00,474.40 L634.25,474.40 L634.50,474.40 L634.75,474.40 L635.00,474.40 L635.25,474.40 L635.50,474.40 L635.75,474.40 L636.00,474.40 L636.25,474.40 L636.50,474.40 L636.75,474.40 L637.00,474.40 L637.25,474.40 L637.50,474.40 L637.75,474.40 L638.00,474.40 L638.25,474.40 L638.50,474.40 L638.75,474.40 L639.00,474.40 L639.25,474.40 L639.50,474.40 L639.75,474.40 L640.00,474.40 L640.25,474.40 L640.50,474.40 L640.75,474.40 L641.00,474.40 L641.25,474.40 L641.50,474.40 L641.75,474.40 L642.00,474.40 L642.25,474.40 L642.50,474.40 L642.75,474.40 L643.00,474.40 L643.25,474.40 L643.50,474.40 L643.75,474.40 L644.00,474.40 L644.25,474.40 L644.50,474.40 L644.75,474.40 L645.00,474.40 L645.25,474.40 L645.50,474.40 L645.75,474.40 L646.00,474.40 L646.25,474.40 L646.50,474.40 L646.75,474.40 L647.00,474.40 L647.25,474.40 L647.50,474.40 L647.75,474.40 L648.00,474.40 L648.25,474.40 L648.50,474.40 L648.75,474.40 L649.00,474.40 L649.25,474.40 L649.50,474.40 L649.75,474.40 L650.00,474.40 L650.25,474.40 L650.50,474.40 L650.75,474.40 L651.00,474.40 L651.25,474.40 L651.50,474.40 L651.75,474.40 L652.00,474.40 L652.25,474.40 L652.50,474.40 L652.75,474.40 L653.00,474.40 L653.25,474.40 L653.50,474.40 L653.75,474.40 L654.00,474.40 L654.25,474.40 L654.50,474.40 L654.75,474.40 L654.90,474.40" fill="none" stroke="#e41e1e" stroke-width="1.6" stroke-linejoin="round"/>
<rect x="406.2" y="295.8" width="271.5" height="179.4" fill="none" stroke="#111" stroke-width="1.7"/>
<path d="M406.2,474.70 h-4.2 M406.2,456.81 h-2.2 M406.2,438.92 h-4.2 M406.2,421.03 h-2.2 M406.2,403.14 h-4.2 M406.2,385.25 h-2.2 M406.2,367.36 h-4.2 M406.2,349.47 h-2.2 M406.2,331.58 h-4.2 M406.2,313.69 h-2.2 M406.2,295.80 h-4.2 M428.57,475.2 v2.2 M473.85,475.2 v4.0 M519.12,475.2 v2.2 M564.40,475.2 v4.0 M609.67,475.2 v2.2 M654.95,475.2 v4.0" stroke="#111" stroke-width="1.3" fill="none"/>
<text transform="translate(27.53,226.05) scale(1.0254,1)" font-size="12.727" font-family="Liberation Serif" font-weight="bold" fill="#000">0.0</text>
<text transform="translate(27.79,183.97) scale(1.0254,1)" font-size="12.727" font-family="Liberation Serif" font-weight="bold" fill="#000">0.2</text>
<text transform="translate(27.27,141.89) scale(1.0254,1)" font-size="12.727" font-family="Liberation Serif" font-weight="bold" fill="#000">0.4</text>
<text transform="translate(27.53,99.81) scale(1.0254,1)" font-size="12.727" font-family="Liberation Serif" font-weight="bold" fill="#000">0.6</text>
<text transform="translate(27.53,57.73) scale(1.0254,1)" font-size="12.727" font-family="Liberation Serif" font-weight="bold" fill="#000">0.8</text>
<text transform="translate(27.53,15.65) scale(1.0254,1)" font-size="12.727" font-family="Liberation Serif" font-weight="bold" fill="#000">1.0</text>
<text transform="translate(41.64,238.80) scale(1.0197,1)" font-size="12.500" font-family="Liberation Serif" font-weight="bold" fill="#000">350</text>
<text transform="translate(88.22,238.80) scale(1.0197,1)" font-size="12.500" font-family="Liberation Serif" font-weight="bold" fill="#000">400</text>
<text transform="translate(134.67,238.80) scale(1.0197,1)" font-size="12.500" font-family="Liberation Serif" font-weight="bold" fill="#000">450</text>
<text transform="translate(180.99,238.80) scale(1.0197,1)" font-size="12.500" font-family="Liberation Serif" font-weight="bold" fill="#000">500</text>
<text transform="translate(227.44,238.80) scale(1.0197,1)" font-size="12.500" font-family="Liberation Serif" font-weight="bold" fill="#000">550</text>
<text transform="translate(273.89,238.80) scale(1.0197,1)" font-size="12.500" font-family="Liberation Serif" font-weight="bold" fill="#000">600</text>
<text transform="translate(320.34,238.80) scale(1.0197,1)" font-size="12.500" font-family="Liberation Serif" font-weight="bold" fill="#000">650</text>
<text transform="translate(119.81,263.60) scale(1.0091,1)" font-size="19.100" font-family="Liberation Serif" font-weight="bold" fill="#000">Wavelength (nm)</text>
<text transform="translate(21.30,182.20) rotate(-90) scale(0.9351,1)" font-size="19.200" font-family="Liberation Serif" font-weight="bold" fill="#000">Absorbance (a.u)</text>
<text transform="translate(10.10,27.60) scale(0.9625,1)" font-size="24.242" font-family="Liberation Serif" font-weight="bold" fill="#000">A</text>
<text transform="translate(120.21,25.10) scale(1.0907,1)" font-size="8.636" font-family="Liberation Serif" font-weight="bold" fill="#000">439 nm</text>
<text transform="translate(213.52,24.40) scale(0.9735,1)" font-size="9.848" font-family="Liberation Serif" font-weight="bold" fill="#000">SP-AgNPs</text>
<text transform="translate(213.52,37.30) scale(1.1170,1)" font-size="8.714" font-family="Liberation Serif" font-weight="bold" fill="#000">SP Ext + AgNO<tspan font-size="0.9em" dy="0.28em">3</tspan><tspan dy="-0.252em"> at starting</tspan></text>
<text transform="translate(370.52,241.90) scale(0.9282,1)" font-size="12.273" font-family="Liberation Serif" font-weight="bold" fill="#000">4000</text>
<text transform="translate(411.28,241.90) scale(0.9282,1)" font-size="12.273" font-family="Liberation Serif" font-weight="bold" fill="#000">3500</text>
<text transform="translate(452.15,241.90) scale(0.9282,1)" font-size="12.273" font-family="Liberation Serif" font-weight="bold" fill="#000">3000</text>
<text transform="translate(493.02,241.90) scale(0.9282,1)" font-size="12.273" font-family="Liberation Serif" font-weight="bold" fill="#000">2500</text>
<text transform="translate(533.89,241.90) scale(0.9282,1)" font-size="12.273" font-family="Liberation Serif" font-weight="bold" fill="#000">2000</text>
<text transform="translate(574.54,241.90) scale(0.9282,1)" font-size="12.273" font-family="Liberation Serif" font-weight="bold" fill="#000">1500</text>
<text transform="translate(615.41,241.90) scale(0.9282,1)" font-size="12.273" font-family="Liberation Serif" font-weight="bold" fill="#000">1000</text>
<text transform="translate(659.36,241.90) scale(0.9282,1)" font-size="12.273" font-family="Liberation Serif" font-weight="bold" fill="#000">500</text>
<text transform="translate(455.15,268.50) scale(1.0137,1)" font-size="17.100" font-family="Liberation Serif" font-weight="bold" fill="#000">Wavenumber (cm<tspan font-size="0.7em" dy="-0.614em">-1</tspan><tspan dy="0.43em">)</tspan></text>
<text transform="translate(365.80,184.55) rotate(-90) scale(0.9919,1)" font-size="17.600" font-family="Liberation Serif" font-weight="bold" fill="#000">Transmittance (%)</text>
<text transform="translate(348.61,32.80) scale(0.9455,1)" font-size="25.758" font-family="Liberation Serif" font-weight="bold" fill="#000">B</text>
<text transform="translate(504.72,23.50) scale(1.0424,1)" font-size="10.909" font-family="Liberation Serif" font-weight="bold" fill="#000">SP Extract</text>
<text transform="translate(506.11,153.10) scale(1.0786,1)" font-size="10.606" font-family="Liberation Serif" font-weight="bold" fill="#000">SP-AgNP</text>
<text transform="translate(397.47,85.40) scale(1.0074,1)" font-size="6.571" font-family="Liberation Sans" font-weight="bold" fill="#111" stroke="#111" stroke-width="0.3">3772</text>
<text transform="translate(454.98,83.10) scale(0.9018,1)" font-size="6.714" font-family="Liberation Sans" font-weight="bold" fill="#111" stroke="#111" stroke-width="0.3">3091</text>
<text transform="translate(526.25,100.70) scale(0.9047,1)" font-size="6.857" font-family="Liberation Sans" font-weight="bold" fill="#111" stroke="#111" stroke-width="0.3">2181</text>
<text transform="translate(539.71,76.00) scale(0.9695,1)" font-size="6.714" font-family="Liberation Sans" font-weight="bold" fill="#111" stroke="#111" stroke-width="0.3">1996</text>
<text transform="translate(591.61,89.30) scale(0.9955,1)" font-size="6.571" font-family="Liberation Sans" font-weight="bold" fill="#111" stroke="#111" stroke-width="0.3">1345</text>
<text transform="translate(604.94,104.40) scale(0.8558,1)" font-size="7.000" font-family="Liberation Sans" font-weight="bold" fill="#111" stroke="#111" stroke-width="0.3">1207</text>
<text transform="translate(573.71,117.90) scale(0.9813,1)" font-size="6.571" font-family="Liberation Sans" font-weight="bold" fill="#111" stroke="#111" stroke-width="0.3">1598</text>
<text transform="translate(623.63,118.90) scale(0.9475,1)" font-size="6.571" font-family="Liberation Sans" font-weight="bold" fill="#111" stroke="#111" stroke-width="0.3">1030</text>
<text transform="translate(569.71,216.90) scale(1.0104,1)" font-size="6.429" font-family="Liberation Sans" font-weight="bold" fill="#111" stroke="#111" stroke-width="0.3">1608</text>
<text transform="translate(595.33,211.00) scale(0.9117,1)" font-size="6.714" font-family="Liberation Sans" font-weight="bold" fill="#111" stroke="#111" stroke-width="0.3">1345</text>
<text transform="translate(618.92,220.90) scale(1.0206,1)" font-size="6.286" font-family="Liberation Sans" font-weight="bold" fill="#111" stroke="#111" stroke-width="0.3">1209</text>
<text transform="translate(644.23,215.30) scale(0.9403,1)" font-size="6.571" font-family="Liberation Sans" font-weight="bold" fill="#111" stroke="#111" stroke-width="0.3">1033</text>
<text transform="translate(426.03,183.10) scale(0.9238,1)" font-size="7.273" font-family="Liberation Serif" font-weight="normal" fill="#111" stroke="#111" stroke-width="0.4">3379</text>
<text transform="translate(443.53,202.30) scale(0.9864,1)" font-size="6.970" font-family="Liberation Serif" font-weight="normal" fill="#111" stroke="#111" stroke-width="0.4">3198</text>
<text transform="translate(36.21,478.55) scale(0.7652,1)" font-size="11.286" font-family="Liberation Sans" font-weight="normal" fill="#2a2838" stroke="#2a2838" stroke-width="0.15">0</text>
<text transform="translate(310.75,478.55) scale(0.7652,1)" font-size="11.286" font-family="Liberation Sans" font-weight="normal" fill="#2a2838" stroke="#2a2838" stroke-width="0.15">0</text>
<text transform="translate(31.37,461.78) scale(0.7652,1)" font-size="11.286" font-family="Liberation Sans" font-weight="normal" fill="#2a2838" stroke="#2a2838" stroke-width="0.15">10</text>
<text transform="translate(310.75,461.78) scale(0.7652,1)" font-size="11.286" font-family="Liberation Sans" font-weight="normal" fill="#2a2838" stroke="#2a2838" stroke-width="0.15">5</text>
<text transform="translate(31.37,445.01) scale(0.7652,1)" font-size="11.286" font-family="Liberation Sans" font-weight="normal" fill="#2a2838" stroke="#2a2838" stroke-width="0.15">20</text>
<text transform="translate(310.41,445.01) scale(0.7652,1)" font-size="11.286" font-family="Liberation Sans" font-weight="normal" fill="#2a2838" stroke="#2a2838" stroke-width="0.15">10</text>
<text transform="translate(31.37,428.24) scale(0.7652,1)" font-size="11.286" font-family="Liberation Sans" font-weight="normal" fill="#2a2838" stroke="#2a2838" stroke-width="0.15">30</text>
<text transform="translate(310.41,428.24) scale(0.7652,1)" font-size="11.286" font-family="Liberation Sans" font-weight="normal" fill="#2a2838" stroke="#2a2838" stroke-width="0.15">15</text>
<text transform="translate(31.37,411.47) scale(0.7652,1)" font-size="11.286" font-family="Liberation Sans" font-weight="normal" fill="#2a2838" stroke="#2a2838" stroke-width="0.15">40</text>
<text transform="translate(310.58,411.47) scale(0.7652,1)" font-size="11.286" font-family="Liberation Sans" font-weight="normal" fill="#2a2838" stroke="#2a2838" stroke-width="0.15">20</text>
<text transform="translate(31.37,394.70) scale(0.7652,1)" font-size="11.286" font-family="Liberation Sans" font-weight="normal" fill="#2a2838" stroke="#2a2838" stroke-width="0.15">50</text>
<text transform="translate(310.58,394.70) scale(0.7652,1)" font-size="11.286" font-family="Liberation Sans" font-weight="normal" fill="#2a2838" stroke="#2a2838" stroke-width="0.15">25</text>
<text transform="translate(31.37,377.93) scale(0.7652,1)" font-size="11.286" font-family="Liberation Sans" font-weight="normal" fill="#2a2838" stroke="#2a2838" stroke-width="0.15">60</text>
<text transform="translate(310.75,377.93) scale(0.7652,1)" font-size="11.286" font-family="Liberation Sans" font-weight="normal" fill="#2a2838" stroke="#2a2838" stroke-width="0.15">30</text>
<text transform="translate(31.37,361.16) scale(0.7652,1)" font-size="11.286" font-family="Liberation Sans" font-weight="normal" fill="#2a2838" stroke="#2a2838" stroke-width="0.15">70</text>
<text transform="translate(310.75,361.16) scale(0.7652,1)" font-size="11.286" font-family="Liberation Sans" font-weight="normal" fill="#2a2838" stroke="#2a2838" stroke-width="0.15">35</text>
<text transform="translate(31.37,344.39) scale(0.7652,1)" font-size="11.286" font-family="Liberation Sans" font-weight="normal" fill="#2a2838" stroke="#2a2838" stroke-width="0.15">80</text>
<text transform="translate(310.93,344.39) scale(0.7652,1)" font-size="11.286" font-family="Liberation Sans" font-weight="normal" fill="#2a2838" stroke="#2a2838" stroke-width="0.15">40</text>
<text transform="translate(31.37,327.62) scale(0.7652,1)" font-size="11.286" font-family="Liberation Sans" font-weight="normal" fill="#2a2838" stroke="#2a2838" stroke-width="0.15">90</text>
<text transform="translate(310.93,327.62) scale(0.7652,1)" font-size="11.286" font-family="Liberation Sans" font-weight="normal" fill="#2a2838" stroke="#2a2838" stroke-width="0.15">45</text>
<text transform="translate(26.71,310.85) scale(0.7652,1)" font-size="11.286" font-family="Liberation Sans" font-weight="normal" fill="#2a2838" stroke="#2a2838" stroke-width="0.15">100</text>
<text transform="translate(310.75,310.85) scale(0.7652,1)" font-size="11.286" font-family="Liberation Sans" font-weight="normal" fill="#2a2838" stroke="#2a2838" stroke-width="0.15">50</text>
<text transform="translate(56.54,492.00) scale(0.7652,1)" font-size="11.286" font-family="Liberation Sans" font-weight="normal" fill="#2a2838" stroke="#2a2838" stroke-width="0.15">0.1</text>
<text transform="translate(105.54,492.00) scale(0.7652,1)" font-size="11.286" font-family="Liberation Sans" font-weight="normal" fill="#2a2838" stroke="#2a2838" stroke-width="0.15">1</text>
<text transform="translate(148.57,492.00) scale(0.7652,1)" font-size="11.286" font-family="Liberation Sans" font-weight="normal" fill="#2a2838" stroke="#2a2838" stroke-width="0.15">10</text>
<text transform="translate(191.78,492.00) scale(0.7652,1)" font-size="11.286" font-family="Liberation Sans" font-weight="normal" fill="#2a2838" stroke="#2a2838" stroke-width="0.15">100</text>
<text transform="translate(233.69,492.00) scale(0.7652,1)" font-size="11.286" font-family="Liberation Sans" font-weight="normal" fill="#2a2838" stroke="#2a2838" stroke-width="0.15">1,000</text>
<text transform="translate(276.81,492.00) scale(0.7652,1)" font-size="11.286" font-family="Liberation Sans" font-weight="normal" fill="#2a2838" stroke="#2a2838" stroke-width="0.15">10,000</text>
<text transform="translate(124.31,296.90) scale(0.7615,1)" font-size="11.389" font-family="Liberation Sans" font-weight="normal" fill="#2a2a6e" stroke="#2a2a6e" stroke-width="0.35">Particle Size Distribution</text>
<text transform="translate(6.14,292.90) scale(1.0228,1)" font-size="25.909" font-family="Liberation Serif" font-weight="bold" fill="#000">C</text>
<text transform="translate(131.81,509.80) scale(1.0320,1)" font-size="17.600" font-family="Liberation Serif" font-weight="bold" fill="#000">Size (nm)</text>
<text transform="translate(18.85,433.32) rotate(-90) scale(0.9585,1)" font-size="19.000" font-family="Liberation Serif" font-weight="bold" fill="#000">% Passing</text>
<text transform="translate(340.50,429.29) rotate(-90) scale(0.9799,1)" font-size="18.300" font-family="Liberation Serif" font-weight="bold" fill="#000">% Channel</text>
<text transform="translate(391.88,477.90) scale(1.1989,1)" font-size="10.139" font-family="Liberation Sans" font-weight="bold" fill="#111">0</text>
<text transform="translate(371.21,442.12) scale(1.1989,1)" font-size="10.139" font-family="Liberation Sans" font-weight="bold" fill="#111">100k</text>
<text transform="translate(371.21,406.34) scale(1.1989,1)" font-size="10.139" font-family="Liberation Sans" font-weight="bold" fill="#111">200k</text>
<text transform="translate(371.21,370.56) scale(1.1989,1)" font-size="10.139" font-family="Liberation Sans" font-weight="bold" fill="#111">300k</text>
<text transform="translate(371.21,334.78) scale(1.1989,1)" font-size="10.139" font-family="Liberation Sans" font-weight="bold" fill="#111">400k</text>
<text transform="translate(371.21,299.00) scale(1.1989,1)" font-size="10.139" font-family="Liberation Sans" font-weight="bold" fill="#111">500k</text>
<text transform="translate(462.09,489.90) scale(1.2408,1)" font-size="10.303" font-family="Liberation Serif" font-weight="bold" fill="#000">-100</text>
<text transform="translate(561.20,489.90) scale(1.2408,1)" font-size="10.303" font-family="Liberation Serif" font-weight="bold" fill="#000">0</text>
<text transform="translate(645.11,489.90) scale(1.2408,1)" font-size="10.303" font-family="Liberation Serif" font-weight="bold" fill="#000">100</text>
<text transform="translate(470.61,288.20) scale(1.2351,1)" font-size="10.000" font-family="Liberation Serif" font-weight="bold" fill="#000">Zeta Potential Distribution</text>
<text transform="translate(351.32,297.50) scale(0.9756,1)" font-size="24.848" font-family="Liberation Serif" font-weight="bold" fill="#000">D</text>
<text transform="translate(462.96,510.80) scale(1.2189,1)" font-size="15.200" font-family="Liberation Serif" font-weight="bold" fill="#000">Zeta Potential (mV)</text>
<text transform="translate(365.30,425.01) rotate(-90) scale(0.7996,1)" font-size="19.300" font-family="Liberation Serif" font-weight="bold" fill="#000">Total Count</text>
</svg>
</body></html>
